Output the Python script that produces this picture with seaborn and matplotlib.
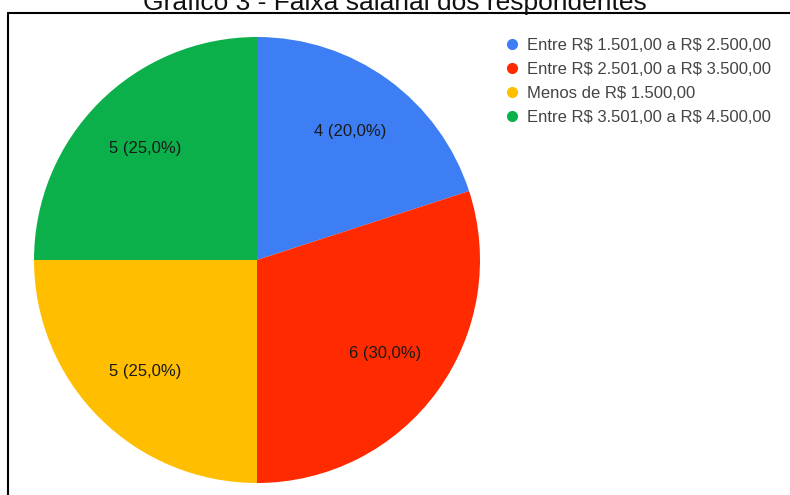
import matplotlib
matplotlib.use("Agg")
import matplotlib.pyplot as plt
from matplotlib.lines import Line2D
import seaborn as sns

# Salary ranges of the respondents (clockwise from 12 o'clock)
categories = [
    "Entre R$ 1.501,00 a R$ 2.500,00",
    "Entre R$ 2.501,00 a R$ 3.500,00",
    "Menos de R$ 1.500,00",
    "Entre R$ 3.501,00 a R$ 4.500,00",
]
counts = [4, 6, 5, 5]
colors = ["#3d7ef5", "#ff2a00", "#ffbf00", "#0bb04a"]
title = "Gráfico 3 - Faixa salarial dos respondentes"

sns.set_theme(style="white")
plt.rcParams["font.family"] = ["Liberation Sans", "DejaVu Sans"]
plt.rcParams["text.parse_math"] = False  # keep "R$" literal

W, H = 790, 495
fig = plt.figure(figsize=(W / 100, H / 100), dpi=100)
fig.patch.set_facecolor("white")

# pie axes: centre (257, 260) px, radius 223 px
cx, cy, r = 257, 260, 223
ax = fig.add_axes([(cx - r) / W, (H - cy - r) / H, 2 * r / W, 2 * r / H])

total = sum(counts)


def fmt(pct):
    n = int(round(pct * total / 100.0))
    return f"{n} ({pct:.1f}%)".replace(".", ",")


wedges, texts, autotexts = ax.pie(
    counts,
    colors=colors,
    startangle=90,
    counterclock=False,
    autopct=fmt,
    pctdistance=0.71,
    radius=1.0,
    wedgeprops=dict(linewidth=0),
    textprops=dict(fontsize=12, color="#1a1a1a"),
)
ax.set_xlim(-1, 1)
ax.set_ylim(-1, 1)
ax.set_aspect("auto")
ax.axis("off")

# legend with round markers
handles = [
    Line2D([0], [0], marker="o", linestyle="none", markersize=7,
           markerfacecolor=c, markeredgecolor=c)
    for c in colors
]
fig.legend(
    handles, categories,
    loc="upper left",
    bbox_to_anchor=(507 / W, 1 - 38 / H),
    frameon=False,
    fontsize=12,
    labelcolor="#444444",
    handlelength=0.6,
    handletextpad=0.62,
    labelspacing=0.53,
    borderaxespad=0,
    borderpad=0,
)

# title, partly above the top edge
fig.text(0.5, 1 - 10 / H, title, ha="center", va="baseline",
         fontsize=19, color="#111111")

# frame lines (top and left)
lw = 1.5
fig.add_artist(Line2D([7.5 / W, 1.0], [1 - 12.5 / H, 1 - 12.5 / H],
                      color="black", linewidth=lw, transform=fig.transFigure))
fig.add_artist(Line2D([7.5 / W, 7.5 / W], [0.0, 1 - 12.5 / H],
                      color="black", linewidth=lw, transform=fig.transFigure))

fig.savefig("out.png", dpi=100, facecolor="white")
